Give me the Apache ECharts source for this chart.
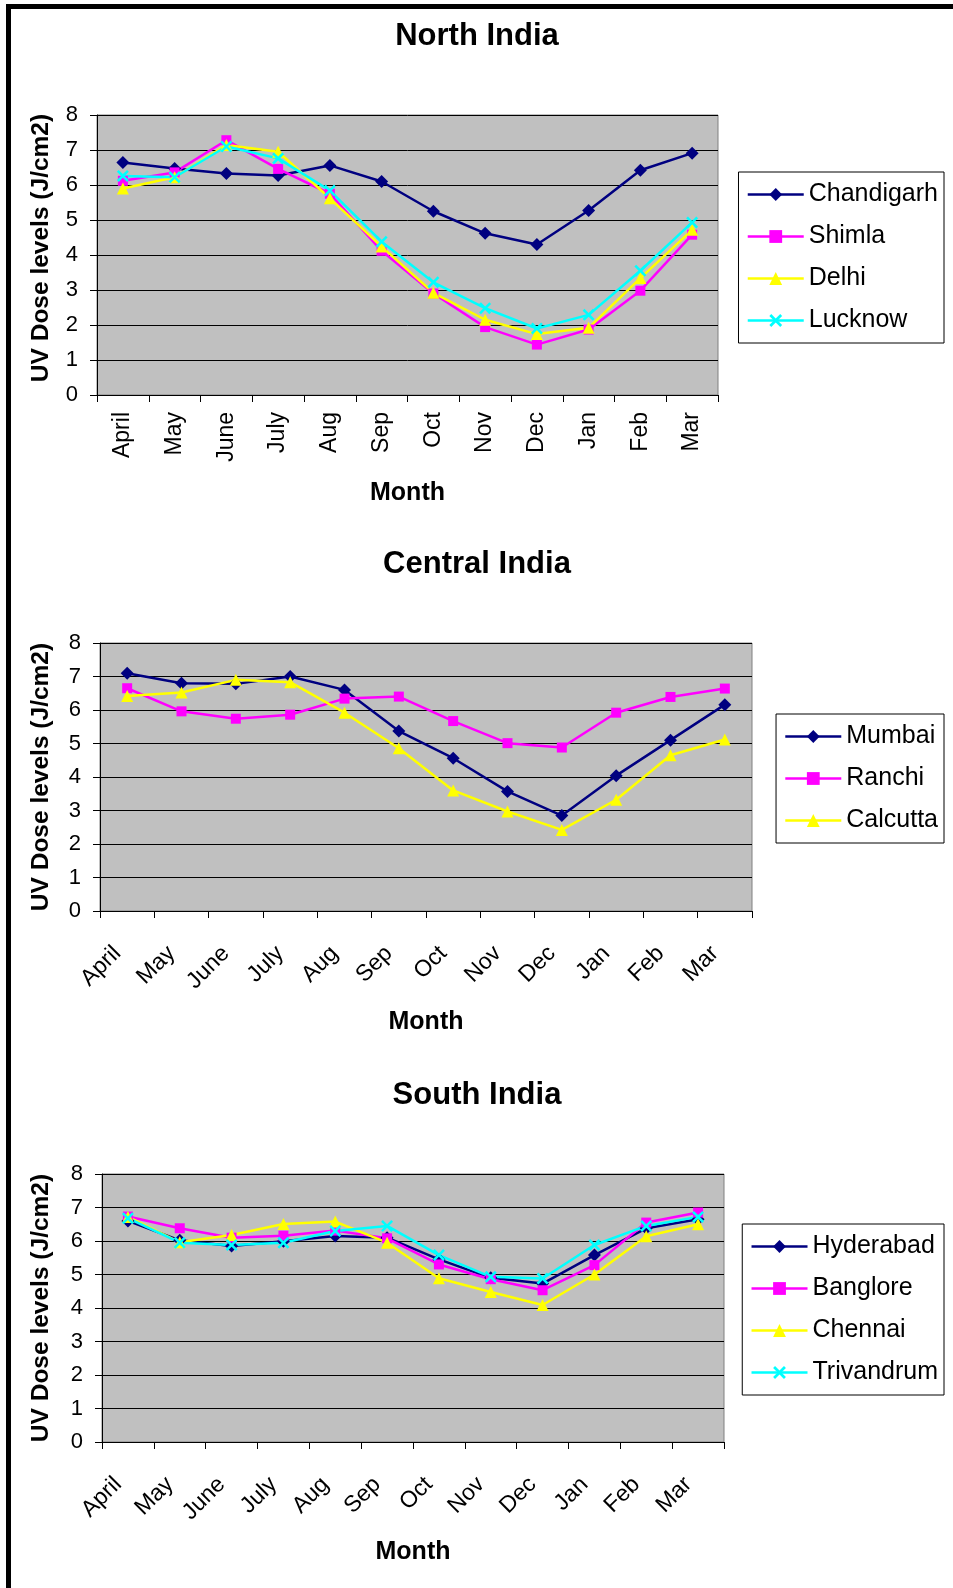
<!DOCTYPE html>
<html><head><meta charset="utf-8">
<script src="https://cdn.jsdelivr.net/npm/echarts@6/dist/echarts.min.js"></script>
<style>html,body{margin:0;padding:0;background:#fff}#c{width:953px;height:1588px}</style>
</head><body><div id="c"></div>
<script>
const months = ['April','May','June','July','Aug','Sep','Oct','Nov','Dec','Jan','Feb','Mar'];
const chartTitles = ['North India','Central India','South India'];
const yAxisTitle = 'UV Dose levels (J/cm2)';
const xAxisTitle = 'Month';

const northCities = ['Chandigarh','Shimla','Delhi','Lucknow'];
const chandigarh = [6.64,6.47,6.33,6.27,6.56,6.10,5.25,4.62,4.30,5.27,6.42,6.91];
const shimla     = [6.12,6.36,7.28,6.46,5.75,4.12,2.90,1.94,1.44,1.87,2.98,4.58];
const delhi      = [5.90,6.22,7.14,6.95,5.62,4.24,2.92,2.15,1.74,1.92,3.34,4.72];
const lucknow    = [6.26,6.22,7.10,6.76,5.84,4.38,3.22,2.48,1.90,2.29,3.55,4.93];

const centralCities = ['Mumbai','Ranchi','Calcutta'];
const mumbai   = [7.10,6.80,6.78,7.00,6.60,5.37,4.56,3.57,2.85,4.04,5.10,6.16];
const ranchi   = [6.65,5.96,5.74,5.86,6.34,6.40,5.67,5.01,4.88,5.92,6.39,6.64];
const calcutta = [6.42,6.52,6.90,6.83,5.92,4.86,3.60,2.97,2.42,3.32,4.65,5.12];

const southCities = ['Hyderabad','Banglore','Chennai','Trivandrum'];
const hyderabad  = [6.60,6.02,5.85,5.99,6.15,6.10,5.45,4.90,4.73,5.58,6.38,6.65];
const banglore   = [6.73,6.38,6.10,6.16,6.31,6.08,5.30,4.86,4.53,5.28,6.55,6.85];
const chennai    = [6.72,5.96,6.18,6.51,6.58,5.95,4.89,4.48,4.09,5.00,6.14,6.50];
const trivandrum = [6.68,5.95,5.88,5.95,6.30,6.45,5.58,4.93,4.88,5.88,6.45,6.72];

const FONT = 'Liberation Sans, Arial, sans-serif';
const NAVY = '#000080', MAG = '#FF00FF', YEL = '#FFFF00', CYAN = '#00FFFF';
const XSYM = 'path://M0,1.5L1.5,0L5,3.5L8.5,0L10,1.5L6.5,5L10,8.5L8.5,10L5,6.5L1.5,10L0,8.5L3.5,5Z';
const styles = [
  {color: NAVY, symbol: 'diamond', size: 13},
  {color: MAG, symbol: 'rect', size: 10},
  {color: YEL, symbol: 'triangle', size: 12},
  {color: CYAN, symbol: XSYM, size: 12}
];

function mkSeries(name, data, styleIdx, gi) {
  const s = styles[styleIdx];
  return {
    type: 'line', name: name, data: data,
    xAxisIndex: gi, yAxisIndex: gi,
    symbol: s.symbol, symbolSize: s.size, showAllSymbol: true,
    lineStyle: {color: s.color, width: 2.5},
    itemStyle: {color: s.color, borderWidth: 0},
    emphasis: {disabled: true}
  };
}

const grids = [
  {left: 97, top: 115, width: 621, height: 280},
  {left: 100, top: 643, width: 652, height: 268},
  {left: 102, top: 1174, width: 622, height: 268}
];
const nameGapsY = [43, 46, 48];
const nameGapsX = [86, 99, 98];

const xAxes = grids.map((g, i) => ({
  type: 'category', gridIndex: i, data: months, boundaryGap: true,
  axisLine: {show: true, lineStyle: {color: '#000', width: 1}},
  axisTick: {show: true, length: 7, interval: 0, lineStyle: {color: '#000'}},
  axisLabel: i === 0
    ? {rotate: 90, interval: 0, margin: 17, fontFamily: FONT, fontSize: 23, color: '#000'}
    : {rotate: 45, interval: 0, margin: 29, padding: [0, 14, 0, 0], fontFamily: FONT, fontSize: 23, color: '#000'},
  name: xAxisTitle, nameLocation: 'middle', nameGap: nameGapsX[i],
  nameTextStyle: {fontFamily: FONT, fontSize: 25, fontWeight: 'bold', color: '#000'},
  splitLine: {show: false}
}));
const yAxes = grids.map((g, i) => ({
  type: 'value', gridIndex: i, min: 0, max: 8, interval: 1,
  axisLine: {show: true, lineStyle: {color: '#000', width: 1}},
  axisTick: {show: true, length: 7, lineStyle: {color: '#000'}},
  axisLabel: {margin: 19, fontFamily: FONT, fontSize: 22, color: '#000'},
  splitLine: {show: true, lineStyle: {color: '#000', width: 1}},
  name: yAxisTitle, nameLocation: 'middle', nameGap: nameGapsY[i], nameRotate: 90,
  nameTextStyle: {fontFamily: FONT, fontSize: 24.5, fontWeight: 'bold', color: '#000',
    padding: i === 0 ? [0, 0, 0, 14] : 0}
}));

const titleTops = [16, 544, 1075];
const legendTops = [172, 714, 1224];
const legendNames = [northCities, centralCities, southCities];

const option = {
  animation: false,
  backgroundColor: '#fff',
  title: chartTitles.map((t, i) => ({
    text: t, left: 472, top: titleTops[i], textAlign: 'center',
    textStyle: {fontFamily: FONT, fontSize: 31, fontWeight: 'bold', color: '#000'}
  })),
  legend: legendNames.map((names, i) => ({
    data: names, orient: 'vertical', right: 9, top: legendTops[i],
    padding: [10, 6, 10, 8], itemGap: 17, itemWidth: 56, itemHeight: 16,
    backgroundColor: '#fff', borderColor: '#000', borderWidth: 1,
    selectedMode: false,
    lineStyle: {width: 2.5},
    textStyle: {fontFamily: FONT, fontSize: 25, color: '#000'}
  })),
  grid: grids.map(g => Object.assign({show: true, backgroundColor: '#C0C0C0', borderColor: '#808080', borderWidth: 1}, g)),
  xAxis: xAxes,
  yAxis: yAxes,
  graphic: [
    {type: 'rect', shape: {x: 6, y: 4, width: 947, height: 5}, style: {fill: '#000'}, silent: true},
    {type: 'rect', shape: {x: 6, y: 4, width: 5, height: 1584}, style: {fill: '#000'}, silent: true}
  ],
  series: [
    mkSeries('Chandigarh', chandigarh, 0, 0),
    mkSeries('Shimla', shimla, 1, 0),
    mkSeries('Delhi', delhi, 2, 0),
    mkSeries('Lucknow', lucknow, 3, 0),
    mkSeries('Mumbai', mumbai, 0, 1),
    mkSeries('Ranchi', ranchi, 1, 1),
    mkSeries('Calcutta', calcutta, 2, 1),
    mkSeries('Hyderabad', hyderabad, 0, 2),
    mkSeries('Banglore', banglore, 1, 2),
    mkSeries('Chennai', chennai, 2, 2),
    mkSeries('Trivandrum', trivandrum, 3, 2)
  ]
};
const chart = echarts.init(document.getElementById('c'), null, {renderer: 'canvas'});
chart.setOption(option);
</script>
</body></html>
